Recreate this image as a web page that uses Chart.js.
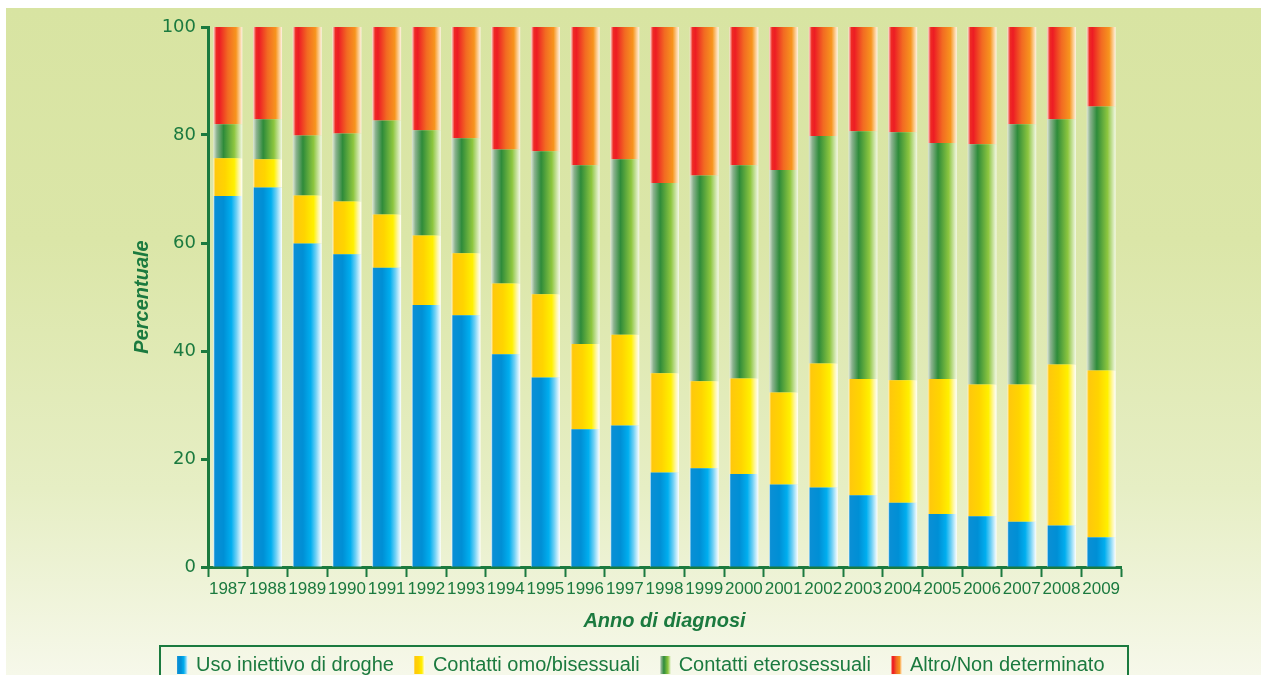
<!DOCTYPE html>
<html>
<head>
<meta charset="utf-8">
<script src="https://cdn.jsdelivr.net/npm/chart.js@4/dist/chart.umd.min.js"></script>
<style>
    html, body { margin: 0; padding: 0; background: #ffffff; }
    body { width: 1261px; height: 675px; position: relative; overflow: hidden; }
    #panel {
        position: absolute; left: 6px; top: 8px; right: 0; bottom: 0;
        background: linear-gradient(to bottom, #d8e4a2 0%, #dbe6a8 35%, #e6eec4 72%, #f6f8ea 100%);
    }
    #wrap { position: absolute; left: 0; top: 0; width: 1261px; height: 675px; }
    #legend {
        position: absolute; left: 159px; top: 645px; width: 970px; height: 40px;
        border: 2px solid #1b7a3f; box-sizing: border-box;
        display: flex; align-items: flex-start; padding: 6px 0 0 16px;
        font-family: "Liberation Sans", Arial, sans-serif; font-size: 20px; color: #1b7a3f;
    }
    .item { display: flex; align-items: center; margin-right: 20px; white-space: nowrap; }
    .swatch { width: 11px; height: 18px; margin-right: 8px; }
</style>
</head>
<body>
<div id="panel"></div>
<div id="wrap"><canvas id="chart" width="1261" height="675"></canvas></div>
<div id="legend"></div>
<script>
document.addEventListener('DOMContentLoaded', function() {
    // Data (percent of cases per year)
    const years = ['1987', '1988', '1989', '1990', '1991', '1992', '1993', '1994', '1995', '1996', '1997', '1998',
                   '1999', '2000', '2001', '2002', '2003', '2004', '2005', '2006', '2007', '2008', '2009'];
    const seriesNames = ['Uso iniettivo di droghe', 'Contatti omo/bisessuali', 'Contatti eterosessuali', 'Altro/Non determinato'];
    const iniettivo = [68.7, 70.3, 59.9, 57.9, 55.4, 48.5, 46.6, 39.4, 35.1, 25.5, 26.2, 17.5, 18.3, 17.2, 15.3, 14.7, 13.3, 11.9, 9.8, 9.4, 8.4, 7.7, 5.5];
    const omoBisex = [7.0, 5.2, 8.9, 9.8, 9.9, 12.9, 11.5, 13.1, 15.4, 15.8, 16.8, 18.4, 16.1, 17.7, 17.0, 23.0, 21.5, 22.7, 25.0, 24.4, 25.4, 29.8, 30.9];
    const etero = [6.3, 7.4, 11.1, 12.6, 17.4, 19.5, 21.3, 24.8, 26.5, 33.1, 32.5, 35.2, 38.1, 39.5, 41.2, 42.1, 45.9, 45.9, 43.7, 44.5, 48.2, 45.4, 48.9];
    const altro = [18.0, 17.1, 20.1, 19.7, 17.3, 19.1, 20.6, 22.7, 23.0, 25.6, 24.5, 28.9, 27.5, 25.6, 26.5, 20.2, 19.3, 19.5, 21.5, 21.7, 18.0, 17.1, 14.7];
    const yTicks = [0, 20, 40, 60, 80, 100];

    const green = '#1b7a3f';
    const barPct = 0.73;

    // horizontal colour stops for each series (left edge -> right edge of a bar)
    const stops = [
        [[0, '#eaf6fc'], [0.05, '#0a8fd5'], [0.35, '#008fd5'], [0.62, '#00aeef'], [0.8, '#6fd0f5'], [1, '#ffffff']],
        [[0, '#fff2c4'], [0.07, '#ffc80c'], [0.4, '#ffd400'], [0.72, '#fff000'], [0.88, '#fff7a0'], [1, '#ffffff']],
        [[0, '#dfe8d6'], [0.12, '#8bb28f'], [0.35, '#2e8b3a'], [0.72, '#8dc63f'], [0.88, '#c8e29e'], [1, '#f4f9e8']],
        [[0, '#fde2d6'], [0.1, '#ee2a24'], [0.2, '#ed1c24'], [0.5, '#f26a22'], [0.78, '#f7941d'], [0.9, '#fbc98a'], [1, '#fff3e4']]
    ];
    const solid = ['#00a0e3', '#ffd700', '#4ca23c', '#f26522'];

    function barFill(series) {
        return function(ctx) {
            const chart = ctx.chart;
            const xs = chart.scales.x;
            if (!chart.chartArea || !xs || ctx.dataIndex === undefined) return solid[series];
            const cx = xs.getPixelForValue(ctx.dataIndex);
            const w = xs.width / years.length * barPct;
            const g = chart.ctx.createLinearGradient(cx - w / 2, 0, cx + w / 2, 0);
            stops[series].forEach(s => g.addColorStop(s[0], s[1]));
            return g;
        };
    }

    const values = [iniettivo, omoBisex, etero, altro];

    new Chart(document.getElementById('chart').getContext('2d'), {
        type: 'bar',
        data: {
            labels: years,
            datasets: values.map((v, i) => ({
                label: seriesNames[i],
                data: v,
                backgroundColor: barFill(i),
                borderWidth: 0,
                barPercentage: barPct,
                categoryPercentage: 1
            }))
        },
        options: {
            responsive: false,
            animation: false,
            events: [],
            layout: {
                padding: { left: 126, right: 140, top: 27, bottom: 38 }
            },
            plugins: {
                legend: { display: false },
                tooltip: { enabled: false }
            },
            scales: {
                x: {
                    stacked: true,
                    border: { color: green, width: 3 },
                    grid: { drawOnChartArea: false, drawTicks: true, tickLength: 10, tickWidth: 2, color: green, offset: true },
                    ticks: {
                        autoSkip: false, maxRotation: 0, padding: 2, color: green,
                        font: { family: 'Liberation Sans', size: 17 }
                    },
                    title: {
                        display: true, text: 'Anno di diagnosi', color: green,
                        font: { family: 'Liberation Sans', size: 20, weight: 'bold', style: 'italic' }
                    },
                    afterFit: s => { s.height = 70; }
                },
                y: {
                    stacked: true,
                    min: 0,
                    max: 100,
                    border: { color: green, width: 3 },
                    grid: { drawOnChartArea: false, drawTicks: true, tickLength: 7, tickWidth: 3, color: green },
                    afterBuildTicks: s => { s.ticks = yTicks.map(v => ({ value: v })); },
                    ticks: {
                        padding: 5, color: green,
                        font: { family: 'DejaVu Sans', size: 18 }
                    },
                    title: {
                        display: true, text: 'Percentuale', color: green,
                        font: { family: 'Liberation Sans', size: 20, weight: 'bold', style: 'italic' }
                    },
                    afterFit: s => { s.width = 82; }
                }
            }
        }
    });

    // legend as html below the plot
    const legend = document.getElementById('legend');
    seriesNames.forEach((name, i) => {
        const item = document.createElement('div');
        item.className = 'item';
        const sw = document.createElement('span');
        sw.className = 'swatch';
        sw.style.background = 'linear-gradient(to right, ' + stops[i].map(s => s[1] + ' ' + (s[0] * 100) + '%').join(', ') + ')';
        const tx = document.createElement('span');
        tx.textContent = name;
        item.appendChild(sw);
        item.appendChild(tx);
        legend.appendChild(item);
    });
});
</script>
</body>
</html>
